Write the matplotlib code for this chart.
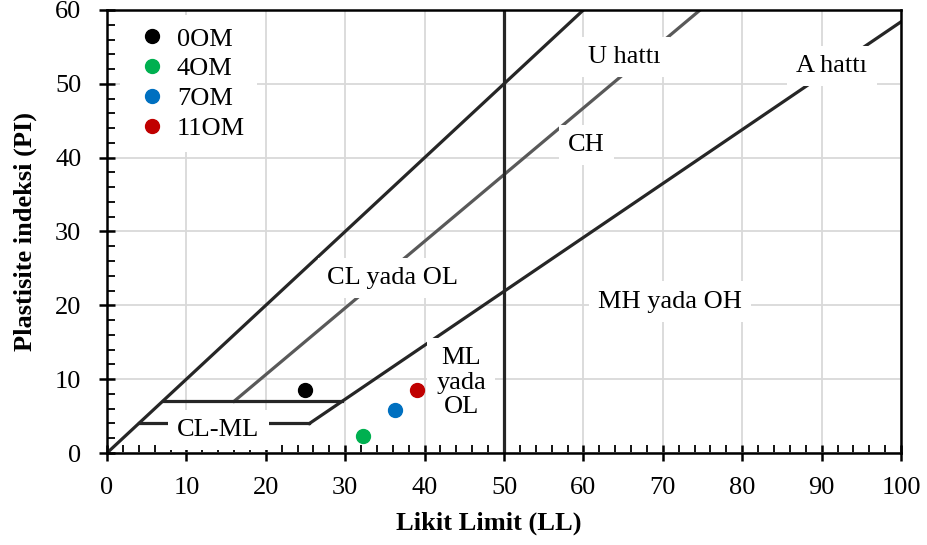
import numpy as np
import matplotlib
matplotlib.use('Agg')
import matplotlib.pyplot as plt
from matplotlib.ticker import MultipleLocator

plt.rcParams['font.family'] = ['Liberation Serif', 'DejaVu Serif']

# samples
names = ['0OM', '4OM', '7OM', '11OM']
ll = [24.9, 32.2, 36.3, 39.1]
pi = [8.5, 2.3, 5.8, 8.6]
colors = ['#000000', '#00b050', '#0070c0', '#c00000']

# chart lines
upper_x = [0, 60]
upper_y = [0, 60]
u_x = [16, 74.7]
u_y = [7, 60]
a_x = [25.5, 100]
a_y = [4, 58.4]
h7_x = [7, 29.6]
h4_x = [4, 25.5]

# region labels: text, x, y
labels = [('U hattı', 65.2, 53.6), ('A hattı', 91.3, 52.4), ('CH', 60.4, 41.7),
          ('CL yada OL', 36.0, 23.7), ('MH yada OH', 70.9, 20.5),
          ('ML\nyada\nOL', 44.6, 9.5), ('CL-ML', 14.0, 3.1)]

fs = 19

fig = plt.figure(figsize=(9.27, 5.45), dpi=100)
ax = fig.add_axes([0.1154, 0.1688, 0.8566, 0.8129])

line_col = '#262626'
lw = 2.3
ax.plot(upper_x, upper_y, color=line_col, lw=lw, zorder=2)
ax.plot(u_x, u_y, color='#595959', lw=lw, zorder=2)
ax.plot(a_x, a_y, color=line_col, lw=lw, zorder=2)
ax.plot(h7_x, [7, 7], color=line_col, lw=lw, zorder=2)
ax.plot(h4_x, [4, 4], color=line_col, lw=lw, zorder=2)
ax.axvline(50, color=line_col, lw=lw, zorder=2)

for t, x, y in labels:
    ax.text(x, y, t, fontsize=fs, ha='center', va='center', zorder=3,
            linespacing=1.15,
            bbox=dict(boxstyle='square,pad=0.35', fc='white', ec='none'))

for n, x, y, c in zip(names, ll, pi, colors):
    ax.plot(x, y, 'o', color=c, ms=10, label=n, zorder=4)

leg = ax.legend(loc='upper left', frameon=True, fontsize=fs, handletextpad=0.2,
                labelspacing=0.24, borderaxespad=0.2, borderpad=0.45, fancybox=False,
                handlelength=1.5, bbox_to_anchor=(0.01, 1.0))
leg.get_frame().set_edgecolor('none')
leg.get_frame().set_alpha(1)

ax.set_xlim(0, 100)
ax.set_ylim(0, 60)
ax.xaxis.set_major_locator(MultipleLocator(10))
ax.yaxis.set_major_locator(MultipleLocator(10))
ax.xaxis.set_minor_locator(MultipleLocator(2))
ax.yaxis.set_minor_locator(MultipleLocator(2))
ax.grid(True, which='major', color='#d9d9d9', lw=1.3, zorder=0)
ax.set_axisbelow(True)
ax.tick_params(which='major', direction='inout', length=11, width=1.8, labelsize=fs)
ax.tick_params(axis='x', which='major', pad=12)
ax.tick_params(axis='y', which='major', pad=13)
ax.tick_params(which='minor', direction='in', length=5.5, width=1.3)
for s in ax.spines.values():
    s.set_linewidth(1.8)
    s.set_color('black')

ax.set_xlabel('Likit Limit (LL)', fontsize=fs, fontweight='bold')
ax.set_ylabel('Plastisite indeksi (PI)', fontsize=fs, fontweight='bold')
ax.xaxis.set_label_coords(0.481, -0.132)
ax.yaxis.set_label_coords(-0.088, 0.5)

fig.savefig('out.png', dpi=100)
